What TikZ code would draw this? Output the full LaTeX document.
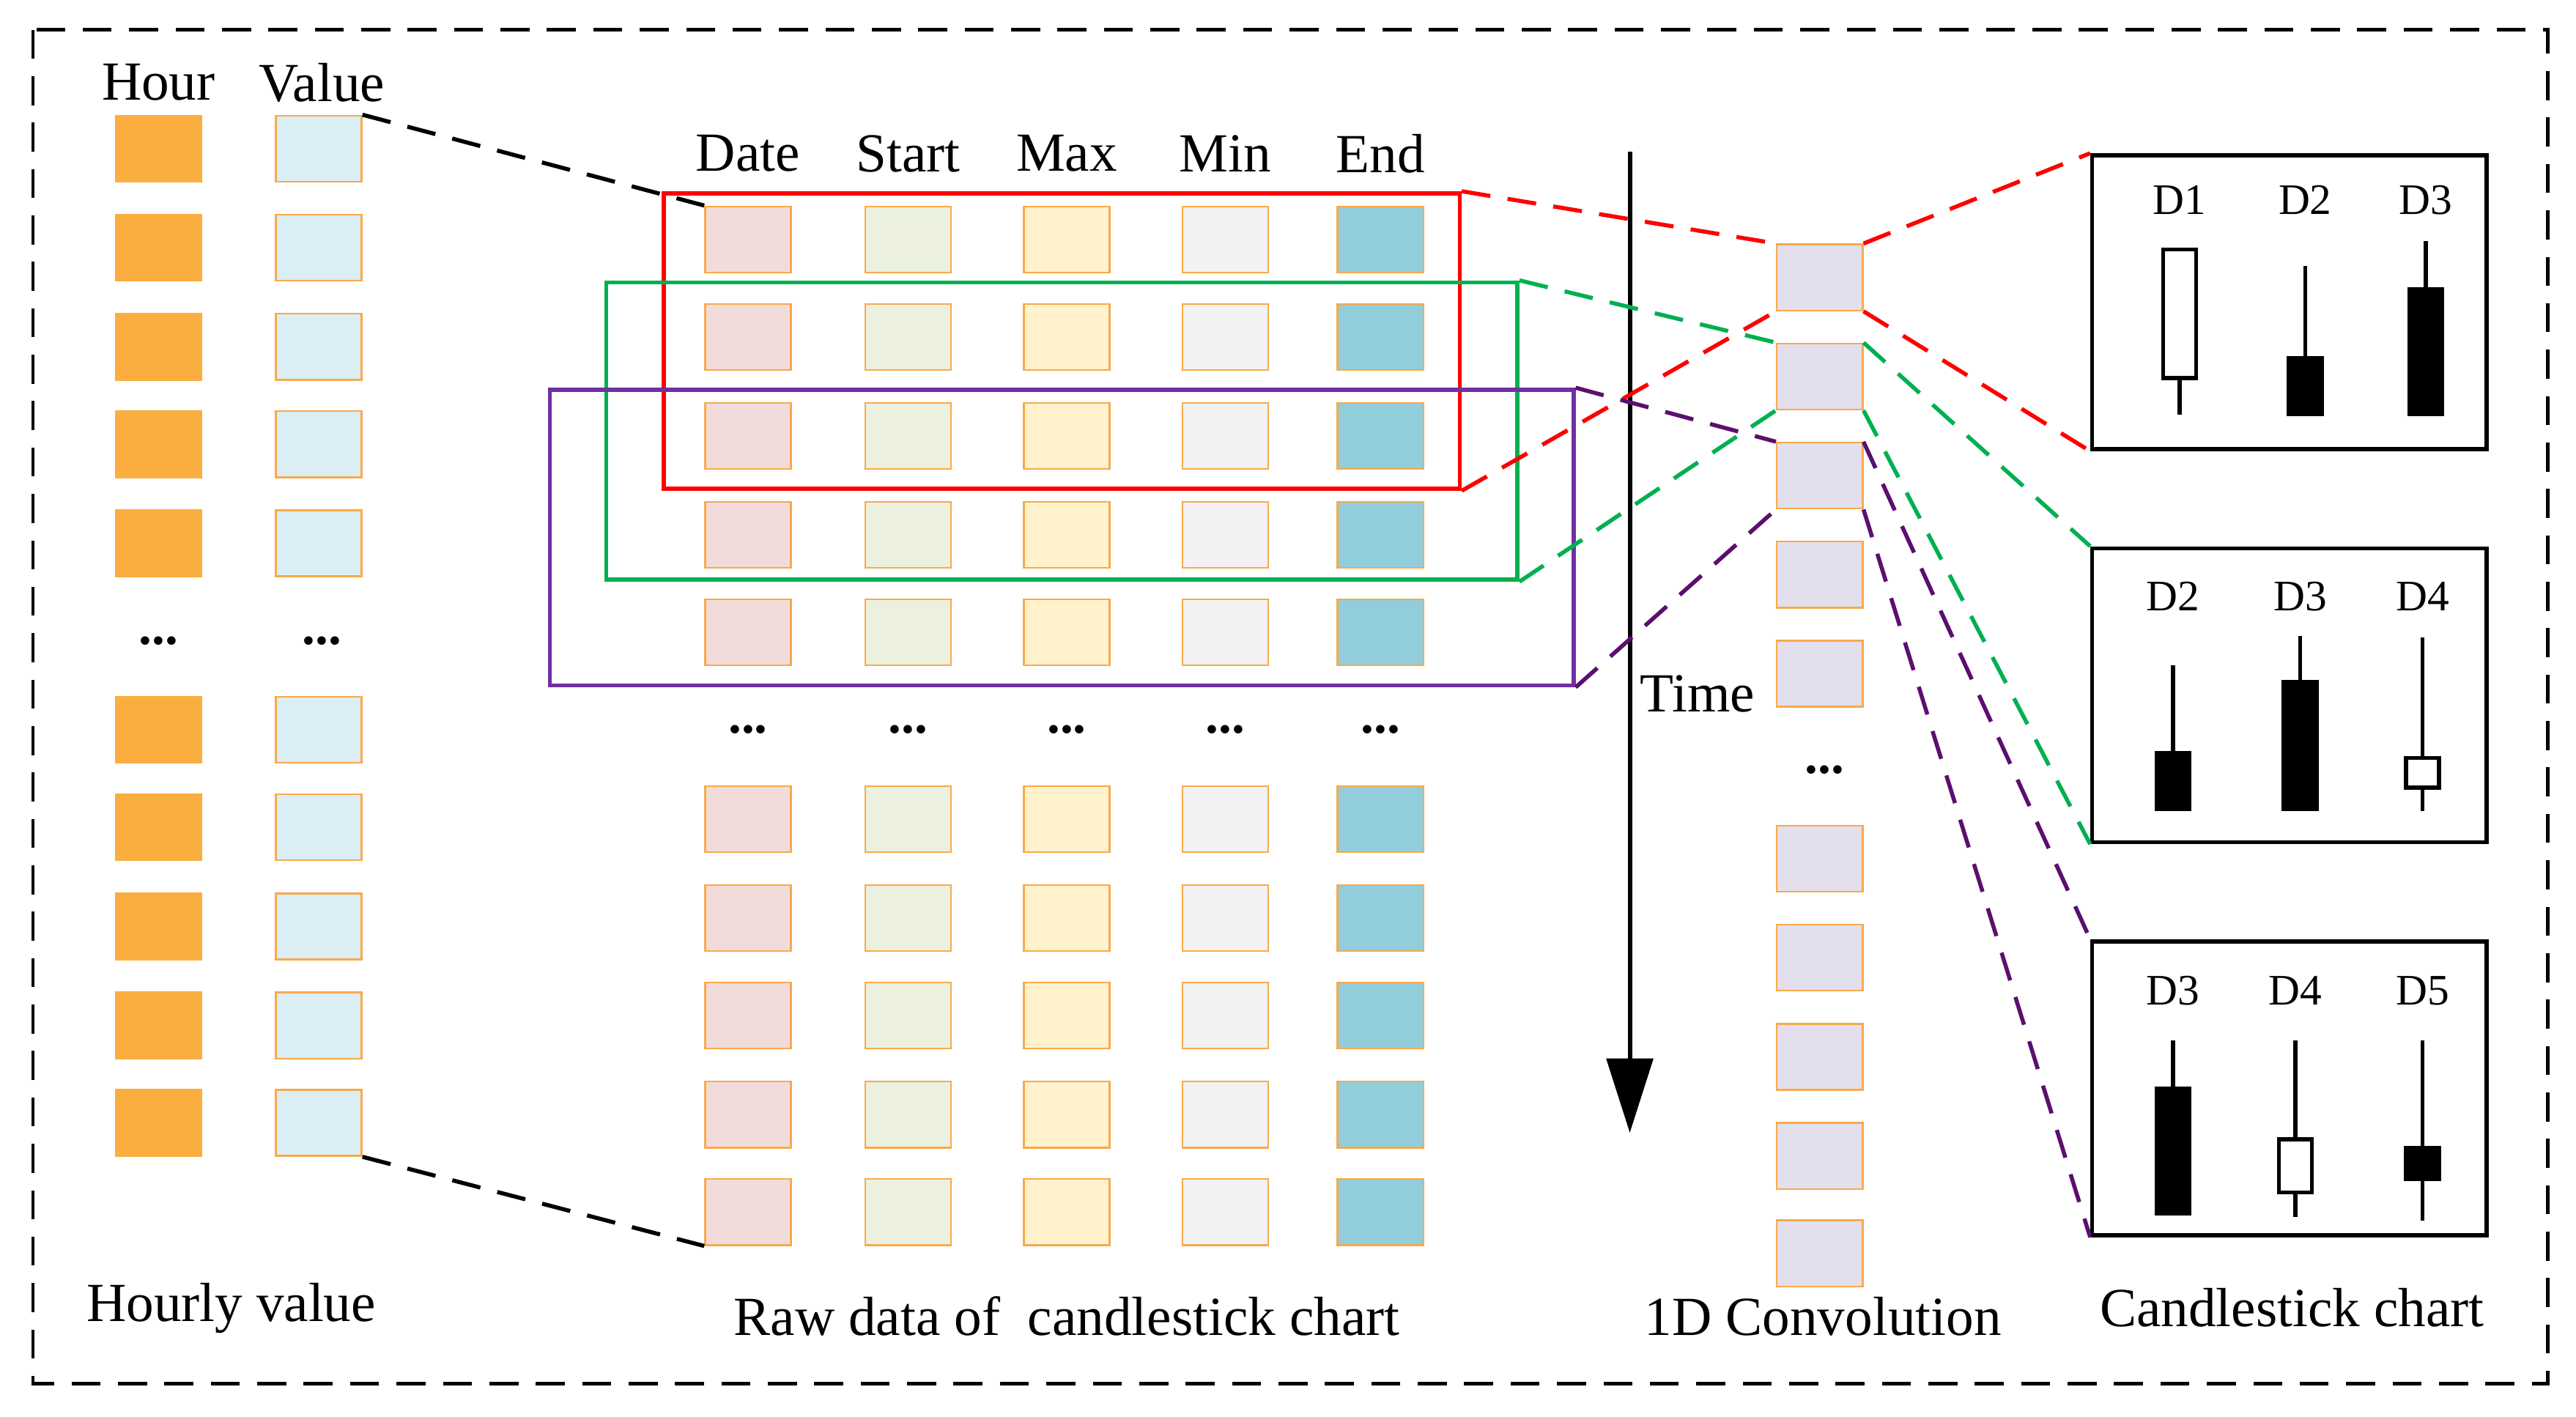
\documentclass[tikz,border=0pt]{standalone}
\usepackage{fontspec}
\setmainfont{Liberation Serif}
\usetikzlibrary{arrows.meta}
\definecolor{hourc}{HTML}{FBAE40}
\definecolor{valc}{HTML}{DAEEF3}
\definecolor{edgec}{HTML}{F9A94B}
\definecolor{datec}{HTML}{F2DCDB}
\definecolor{startc}{HTML}{EBF1DE}
\definecolor{maxc}{HTML}{FFF2CC}
\definecolor{minc}{HTML}{F2F2F2}
\definecolor{endc}{HTML}{92CDDC}
\definecolor{convc}{HTML}{E4DFEC}
\definecolor{gr}{HTML}{00B050}
\definecolor{pu}{HTML}{7030A0}
\definecolor{pud}{HTML}{5B0F6E}
\tikzset{
  cell/.style={draw=edgec, line width=0.6pt, minimum width=1.04cm, minimum height=0.8cm, inner sep=0pt},
  txt/.style={font=\fontsize{19}{21}\selectfont, inner sep=0pt},
  dlab/.style={font=\fontsize{15}{17}\selectfont, inner sep=0pt},
  dots/.style={font=\fontsize{18}{20}\selectfont\bfseries, inner sep=0pt},
  link/.style={line width=1.4pt, dash pattern=on 10pt off 6pt},
  win/.style={line width=1.4pt, inner sep=0pt},
  chart/.style={draw, line width=1.4pt, minimum width=4.78cm, minimum height=3.56cm, inner sep=0pt},
}
\newcommand{\candle}[6]{% x, wick top, wick bottom, body top, body bottom, fill
  \draw[line width=1.4pt] (#1,#2) -- (#1,#3);
  \draw[line width=1.4pt, fill=#6] (#1-10,#4) rectangle (#1+10,#5);
}
\begin{document}
\begin{tikzpicture}[x=0.02cm,y=-0.02cm]
\useasboundingbox (0,0) rectangle (1560,858);
\draw[link, line width=1.2pt] (20,18) rectangle (1543,838);

% hourly value
\node[txt] (hour) at (96,50) {Hour};
\node[txt] (value) at (195,50) {Value};
\foreach \y [count=\i] in {90,150,210,269,329,442,501,561,621,680}{
  \node[cell, fill=hourc, draw=hourc] (h\i) at (96,\y) {};
  \node[cell, fill=valc] (v\i) at (193,\y) {};
}
\node[dots] (hdots) at (96,388) {...};
\node[dots] (vdots) at (195,388) {...};
\node[txt] (hourly) at (140,792) {Hourly value};

% raw data
\foreach \x/\c/\n/\t in {453/datec/da/Date,550/startc/st/Start,646/maxc/mx/Max,742/minc/mn/Min,836/endc/en/End}{
  \node[txt] (\n h) at (\x,93) {\t};
  \foreach \y [count=\i] in {145,204,264,324,383,496,556,615,675,734}{
    \node[cell, fill=\c] (\n\i) at (\x,\y) {};
  }
  \node[dots] (\n dots) at (\x,442) {...};
}
\node[txt] (raw) at (646,797) {Raw data of\ \ candlestick chart};

\draw[link] (v1.north east) -- (da1.north west);
\draw[link] (v10.south east) -- (da10.south west);

% windows
\node[win, draw=red, minimum width=9.64cm, minimum height=3.58cm] (wred) at (643,206.5) {};
\node[win, draw=gr, minimum width=11.04cm, minimum height=3.6cm] (wgreen) at (643,261) {};
\node[win, draw=pu, minimum width=12.4cm, minimum height=3.58cm] (wpurple) at (643,325.5) {};

% time
\coordinate (t0) at (987,92);
\coordinate (t1) at (987,686);
\draw[line width=1.5pt, -{Triangle[width=0.56cm, length=0.9cm]}] (t0) -- (t1);
\node[txt] (time) at (1028,420) {Time};

% convolution
\foreach \y [count=\i] in {168,228,288,348,408,520,580,640,700,759}{
  \node[cell, fill=convc] (c\i) at (1102,\y) {};
}
\node[dots] (cdots) at (1105,466) {...};
\node[txt] (conv) at (1104,797) {1D Convolution};

% candlestick charts
\node[chart] (k1) at (1386.5,183) {};
\node[chart] (k2) at (1386.5,421) {};
\node[chart] (k3) at (1386.5,659) {};
\foreach \x/\t in {1320/D1,1396/D2,1469/D3}{\node[dlab] at (\x,121) {\t};}
\foreach \x/\t in {1316/D2,1393/D3,1467/D4}{\node[dlab] at (\x,361) {\t};}
\foreach \x/\t in {1316/D3,1390/D4,1467/D5}{\node[dlab] at (\x,600) {\t};}
\candle{1320}{151}{251}{151}{229}{white}
\candle{1396}{161}{251}{217}{251}{black}
\candle{1469}{146}{251}{175}{251}{black}
\candle{1316}{403}{490}{456}{490}{black}
\candle{1393}{385}{490}{413}{490}{black}
\candle{1467}{386}{491}{459}{477}{white}
\candle{1316}{630}{735}{659}{735}{black}
\candle{1390}{630}{737}{690}{722}{white}
\candle{1467}{630}{739}{695}{714}{black}
\node[txt] (kc) at (1388,792) {Candlestick chart};

% links
\draw[link, red] (wred.north east) -- (c1.north west);
\draw[link, red] (wred.south east) -- (c1.south west);
\draw[link, red] (c1.north east) -- (k1.north west);
\draw[link, red] (c1.south east) -- (k1.south west);
\draw[link, gr] (wgreen.north east) -- (c2.north west);
\draw[link, gr] (wgreen.south east) -- (c2.south west);
\draw[link, gr] (c2.north east) -- (k2.north west);
\draw[link, gr] (c2.south east) -- (k2.south west);
\draw[link, pud] (wpurple.north east) -- (c3.north west);
\draw[link, pud] (wpurple.south east) -- (c3.south west);
\draw[link, pud] (c3.north east) -- (k3.north west);
\draw[link, pud] (c3.south east) -- (k3.south west);
\end{tikzpicture}
\end{document}
